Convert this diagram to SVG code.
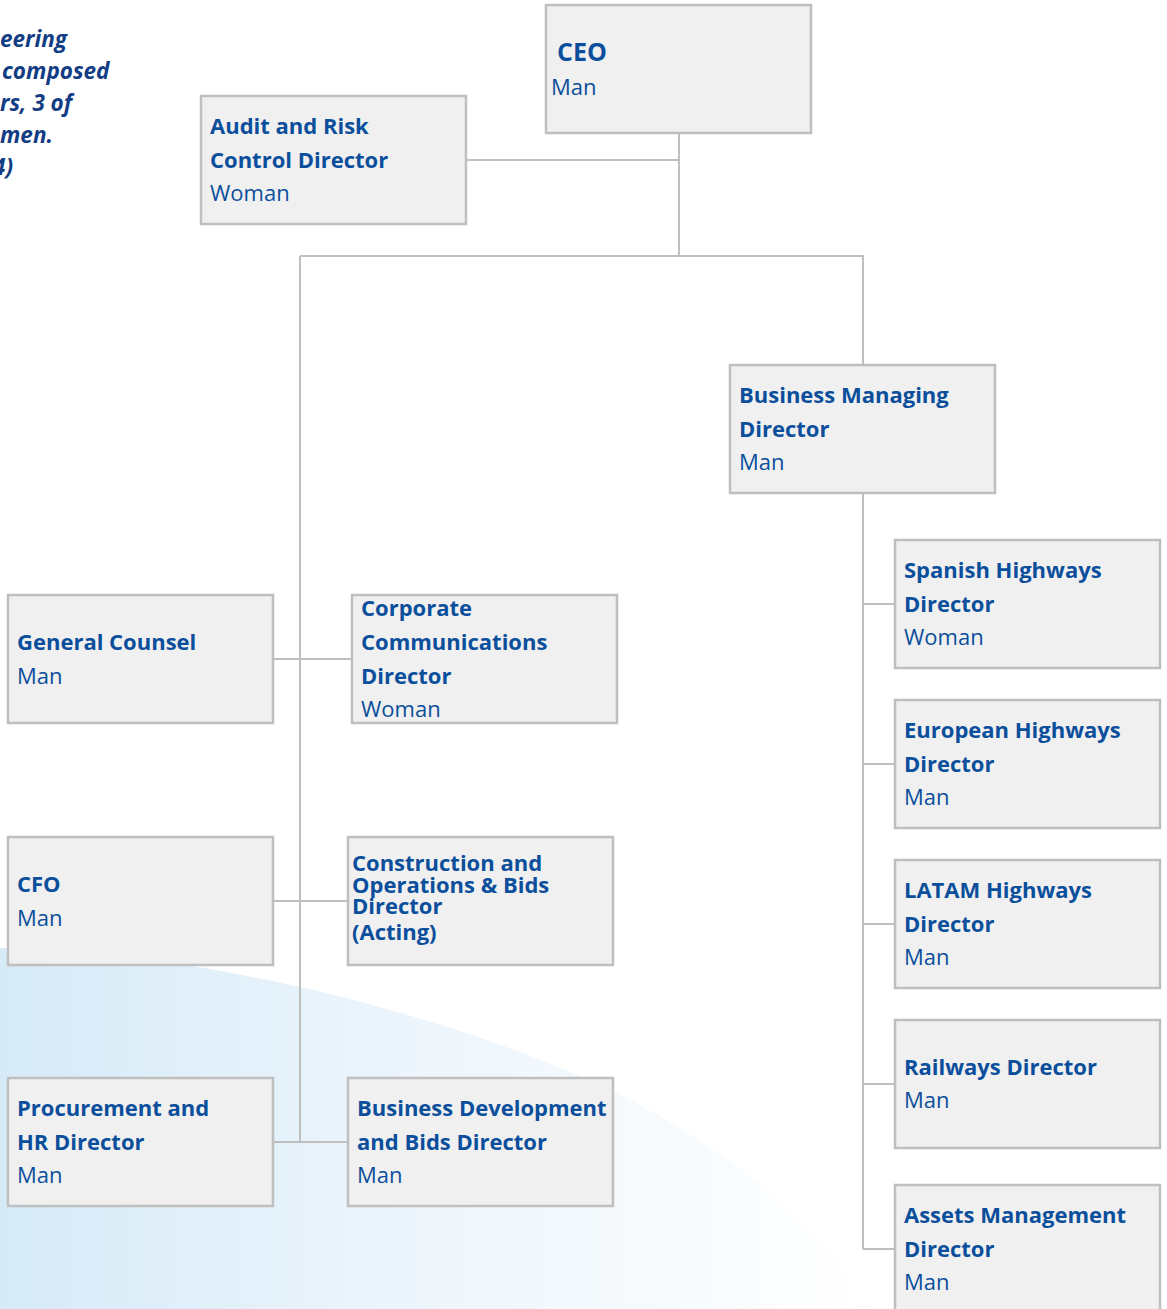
<svg xmlns="http://www.w3.org/2000/svg" width="1167" height="1309" viewBox="0 0 1167 1309">
<style>
.box{fill:#f0f0f0;stroke:#bfbfbf;stroke-width:2.5}
.t{font-family:"Open Sans","Liberation Sans",sans-serif;font-weight:700;font-size:22px;fill:#0b4f9c}
.s{font-family:"Open Sans","Liberation Sans",sans-serif;font-weight:400;font-size:22px;fill:#0b4f9c}
.c{font-family:"Open Sans","Liberation Sans",sans-serif;font-weight:700;font-size:22px;fill:#0b4f9c}
.note{font-family:"Open Sans","Liberation Sans",sans-serif;font-weight:700;font-style:italic;font-size:22.5px;fill:#123d84}
.ln{stroke:#bfbfbf;stroke-width:2;fill:none}
</style>
<defs>
<linearGradient id="bg" x1="0" y1="0" x2="1" y2="0" gradientUnits="objectBoundingBox">
<stop offset="0" stop-color="#d6eaf8"/>
<stop offset="0.5" stop-color="#eef6fc"/>
<stop offset="1" stop-color="#ffffff"/>
</linearGradient>
</defs>
<rect width="1167" height="1309" fill="#ffffff"/>
<path d="M0,948 C200,950 480,1020 640,1105 C750,1165 830,1235 872,1309 L0,1309 Z" fill="url(#bg)"/>
<g id="note">
<text class="note" x="0" y="47">eering</text>
<text class="note" x="2" y="79">composed</text>
<text class="note" x="0" y="111">rs, 3 of</text>
<text class="note" x="0" y="143">men.</text>
<text class="note" x="-7" y="175">4)</text>
</g>
<g id="connectors">
<path class="ln" d="M679,133 V256 M466,160 H679 M300,256 H863 V365 M300,256 V1142 M273,659 H352 M273,901 H348 M273,1142 H348"/>
<path class="ln" d="M863,493 V1249 M863,604 H895 M863,764 H895 M863,924 H895 M863,1084 H895 M863,1249 H895"/>
</g>
<g id="ceo">
<rect class="box" x="546" y="5" width="265" height="128"/>
<text class="t" x="557" y="61" style="font-size:25px">CEO</text>
<text class="s" x="551" y="95">Man</text>
</g>
<g id="audit">
<rect class="box" x="201" y="96" width="265" height="128"/>
<text class="t" x="210" y="134">Audit and Risk</text>
<text class="t" x="210" y="168">Control Director</text>
<text class="s" x="210" y="201">Woman</text>
</g>
<g id="bmd">
<rect class="box" x="730" y="365" width="265" height="128"/>
<text class="t" x="739" y="403">Business Managing</text>
<text class="t" x="739" y="437">Director</text>
<text class="s" x="739" y="470">Man</text>
</g>
<g id="spanish">
<rect class="box" x="895" y="540" width="265" height="128"/>
<text class="t" x="904" y="578">Spanish Highways</text>
<text class="t" x="904" y="612">Director</text>
<text class="s" x="904" y="645">Woman</text>
</g>
<g id="european">
<rect class="box" x="895" y="700" width="265" height="128"/>
<text class="t" x="904" y="738">European Highways</text>
<text class="t" x="904" y="772">Director</text>
<text class="s" x="904" y="805">Man</text>
</g>
<g id="latam">
<rect class="box" x="895" y="860" width="265" height="128"/>
<text class="t" x="904" y="898">LATAM Highways</text>
<text class="t" x="904" y="932">Director</text>
<text class="s" x="904" y="965">Man</text>
</g>
<g id="railways">
<rect class="box" x="895" y="1020" width="265" height="128"/>
<text class="t" x="904" y="1075">Railways Director</text>
<text class="s" x="904" y="1108">Man</text>
</g>
<g id="assets">
<rect class="box" x="895" y="1185" width="265" height="140"/>
<text class="t" x="904" y="1223">Assets Management</text>
<text class="t" x="904" y="1257">Director</text>
<text class="s" x="904" y="1290">Man</text>
</g>
<g id="general-counsel">
<rect class="box" x="8" y="595" width="265" height="128"/>
<text class="t" x="17" y="650">General Counsel</text>
<text class="s" x="17" y="684">Man</text>
</g>
<g id="corporate-comm">
<rect class="box" x="352" y="595" width="265" height="128"/>
<text class="t" x="361" y="616">Corporate</text>
<text class="t" x="361" y="650">Communications</text>
<text class="t" x="361" y="684">Director</text>
<text class="s" x="361" y="717">Woman</text>
</g>
<g id="cfo">
<rect class="box" x="8" y="837" width="265" height="128"/>
<text class="t" x="17" y="892">CFO</text>
<text class="s" x="17" y="926">Man</text>
</g>
<g id="construction">
<rect class="box" x="348" y="837" width="265" height="128"/>
<text class="c" x="352" y="871">Construction and</text>
<text class="c" x="352" y="893">Operations &amp; Bids</text>
<text class="c" x="352" y="914">Director</text>
<text class="c" x="352" y="940">(Acting)</text>
</g>
<g id="procurement">
<rect class="box" x="8" y="1078" width="265" height="128"/>
<text class="t" x="17" y="1116">Procurement and</text>
<text class="t" x="17" y="1150">HR Director</text>
<text class="s" x="17" y="1183">Man</text>
</g>
<g id="busdev">
<rect class="box" x="348" y="1078" width="265" height="128"/>
<text class="t" x="357" y="1116">Business Development</text>
<text class="t" x="357" y="1150">and Bids Director</text>
<text class="s" x="357" y="1183">Man</text>
</g>
</svg>
